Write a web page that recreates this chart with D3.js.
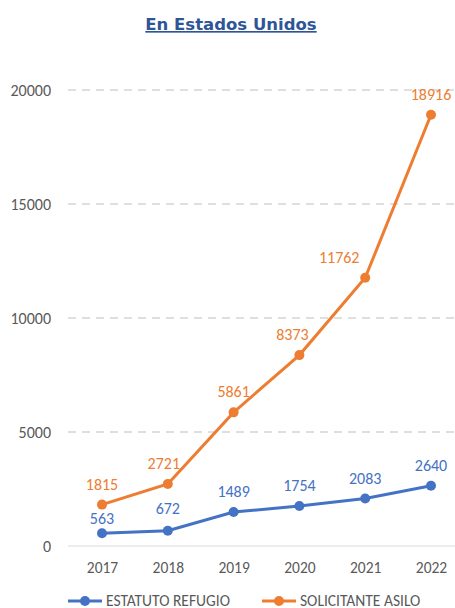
<!DOCTYPE html>
<html>
<head>
<meta charset="utf-8">
<script src="https://cdn.jsdelivr.net/npm/d3@7"></script>
<style>
  body { margin: 0; background: #fff; }
  text { font-family: Carlito, "Liberation Sans Narrow", "Liberation Sans", sans-serif; }
</style>
</head>
<body>
<div id="chart"></div>
<script>
// data
let years = ["2017", "2018", "2019", "2020", "2021", "2022"]
let refugio = [563, 672, 1489, 1754, 2083, 2640]
let asilo = [1815, 2721, 5861, 8373, 11762, 18916]
let yTicks = [0, 5000, 10000, 15000, 20000]
let seriesNames = ["ESTATUTO REFUGIO", "SOLICITANTE ASILO"]
let colors = ["#4472C4", "#ED7D31"]

let width = 455, height = 608
let margin = {top: 90, left: 68, right: 0, bottom: 62}

let svg = d3.select("#chart")
    .append("svg")
        .attr("width", width)
        .attr("height", height)

//title
svg.append("text")
    .attr("x", 231)
    .attr("y", 30)
    .attr("text-anchor", "middle")
    .style("font-family", "'DejaVu Sans', sans-serif")
    .style("font-weight", "bold")
    .style("font-size", "16.5px")
    .style("text-decoration", "underline")
    .attr("fill", "#2F5597")
    .text("En Estados Unidos")

let x = d3.scalePoint()
    .domain(years)
    .range([102, 431])

let y = d3.scaleLinear()
    .domain([0, 20000])
    .range([546, 90])

//gridlines
svg.append("g")
    .selectAll("line")
    .data(yTicks)
    .enter()
    .append("line")
        .attr("x1", margin.left)
        .attr("x2", width)
        .attr("y1", d => y(d))
        .attr("y2", d => y(d))
        .attr("stroke", d => d == 0 ? "#D9D9D9" : "#BFBFBF")
        .attr("stroke-width", 1)
        .attr("stroke-dasharray", d => d == 0 ? null : "8,6")

//y axis labels
let yAxis = svg.append("g")
    .attr("transform", `translate(${margin.left - 14}, 0)`)
    .call(d3.axisLeft(y).tickValues(yTicks).tickSize(0).tickFormat(d3.format("d")))
yAxis.select(".domain").remove()
yAxis.selectAll("text")
    .style("font-size", "16px")
    .attr("fill", "#595959")

//x axis labels
let xAxis = svg.append("g")
    .attr("transform", `translate(0, ${y(0) + 13})`)
    .call(d3.axisBottom(x).tickSize(0))
xAxis.select(".domain").remove()
xAxis.selectAll("text")
    .style("font-size", "15.5px")
    .attr("fill", "#595959")

let line = d3.line()
    .x((d, i) => x(years[i]))
    .y(d => y(d))

// label nudges (excel moved a few labels to avoid overlaps)
let labelDx = [[0, 0, 0, 0, 0, 0], [0, -4, 0, -7, -26, 0]]
let labelDy = [[6, -2, 0, 0, 0, 0], [0, 0, 0, 0, 0, 0]]

let series = [refugio, asilo]
series.forEach(function(vals, s) {
    svg.append("path")
        .datum(vals)
        .attr("d", line)
        .attr("fill", "none")
        .attr("stroke", colors[s])
        .attr("stroke-width", 3)

    svg.append("g")
        .selectAll("circle")
        .data(vals)
        .enter()
        .append("circle")
            .attr("cx", (d, i) => x(years[i]))
            .attr("cy", d => y(d))
            .attr("r", 5)
            .attr("fill", colors[s])

    svg.append("g")
        .selectAll("text")
        .data(vals)
        .enter()
        .append("text")
            .attr("x", (d, i) => x(years[i]) + labelDx[s][i])
            .attr("y", (d, i) => y(d) - 15 + labelDy[s][i])
            .attr("text-anchor", "middle")
            .style("font-size", "16px")
            .attr("fill", colors[s])
            .text(d => d)
})

//legend
let legend = svg.append("g")
let legendX = [68, 262]
seriesNames.forEach(function(name, s) {
    let g = legend.append("g")
        .attr("transform", `translate(${legendX[s]}, 601)`)
    g.append("line")
        .attr("x1", 0).attr("x2", 34)
        .attr("stroke", colors[s])
        .attr("stroke-width", 3)
    g.append("circle")
        .attr("cx", 17)
        .attr("r", 5)
        .attr("fill", colors[s])
    g.append("text")
        .attr("x", 38)
        .attr("y", 5)
        .style("font-size", "15.5px")
        .attr("fill", "#595959")
        .text(name)
})
</script>
</body>
</html>
